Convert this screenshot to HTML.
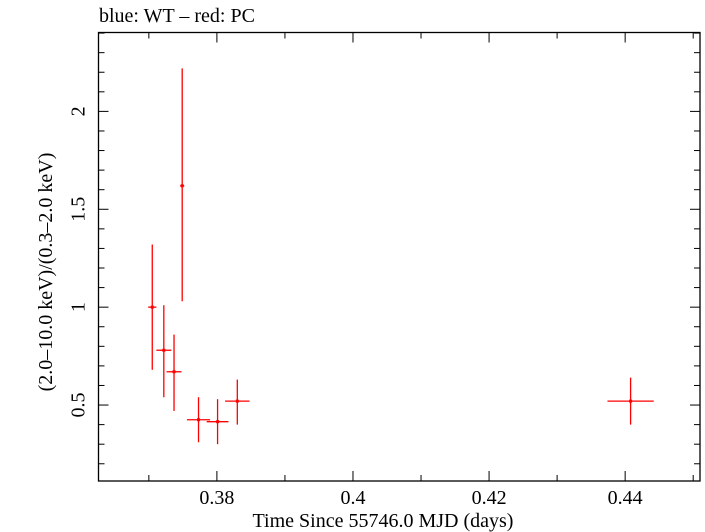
<!DOCTYPE html>
<html><head><meta charset="utf-8"><style>
html,body{margin:0;padding:0;background:#fff;}
svg{display:block;font-family:"Liberation Serif",serif;}
</style></head><body>
<svg id="chart" width="705" height="532" viewBox="0 0 705 532" xmlns="http://www.w3.org/2000/svg">
<text x="99" y="22" font-size="20">blue: WT – red: PC</text>
<rect x="98.5" y="32.5" width="601.5" height="448.5" fill="none" stroke="#000" stroke-width="1.3"/>
<g id="axes"></g>
<g id="marks"></g>
<text x="383" y="527" font-size="20" text-anchor="middle">Time Since 55746.0 MJD (days)</text>
<text transform="translate(52,272) rotate(-90)" font-size="20" text-anchor="middle">(2.0–10.0 keV)/(0.3–2.0 keV)</text>
</svg>
<script>
const xVals=[0.3705,0.3722,0.3737,0.3749,0.3773,0.3801,0.3830,0.4408];
const xErr=[0.0006,0.0011,0.0011,0.0003,0.0017,0.0016,0.0018,0.0034];
const yVals=[1.0,0.78,0.67,1.62,0.425,0.415,0.52,0.52];
const yLow=[0.68,0.54,0.47,1.03,0.31,0.30,0.40,0.40];
const yHigh=[1.32,1.01,0.86,2.22,0.54,0.53,0.63,0.64];
const xTicks=[0.38,0.4,0.42,0.44];
const xTickLabels=["0.38","0.4","0.42","0.44"];
const yTicks=[0.5,1,1.5,2];
const yTickLabels=["0.5","1","1.5","2"];
const X0=0.3626,X1=0.4510,Y0=0.112,Y1=2.403;
const L=98.5,R=700,T=32.5,B=481;
const sx=v=>L+(v-X0)/(X1-X0)*(R-L);
const sy=v=>B-(v-Y0)/(Y1-Y0)*(B-T);
const NS="http://www.w3.org/2000/svg";
function mk(tag,attrs,parent){const e=document.createElementNS(NS,tag);for(const k in attrs)e.setAttribute(k,attrs[k]);parent.appendChild(e);return e;}
const ax=document.getElementById('axes');
for(let i=0;i<=9;i++){const v=0.37+i*0.01;if(v>X1)break;const major=Math.abs(((v-0.38)/0.02)-Math.round((v-0.38)/0.02))<1e-6;const len=major?10:6;
const t1=mk('line',{x1:sx(v),x2:sx(v),y1:B,y2:B-len,stroke:'#000','stroke-width':1},ax);


const t2=mk('line',{x1:sx(v),x2:sx(v),y1:T,y2:T+len,stroke:'#000','stroke-width':1},ax);

}
xTicks.forEach((v,i)=>{const t=mk('text',{x:sx(v),y:B+23,'font-size':20,'text-anchor':'middle'},ax);t.textContent=xTickLabels[i];

});
for(let i=2;i<=24;i++){const v=i*0.1;if(v>Y1)break;const major=i%5===0;const len=major?10:6;
const t1=mk('line',{x1:L,x2:L+len,y1:sy(v),y2:sy(v),stroke:'#000','stroke-width':1},ax);


const t2=mk('line',{x1:R,x2:R-len,y1:sy(v),y2:sy(v),stroke:'#000','stroke-width':1},ax);

}
yTicks.forEach((v,i)=>{const t=mk('text',{transform:`translate(${L-14},${sy(v)}) rotate(-90)`,'font-size':20,'text-anchor':'middle'},ax);t.textContent=yTickLabels[i];

});
const mg=document.getElementById('marks');
xVals.forEach((x,i)=>{const g=mk('g',{},mg);


mk('line',{x1:sx(x),x2:sx(x),y1:sy(yLow[i]),y2:sy(yHigh[i]),stroke:'#f00','stroke-width':1.3},g);
mk('line',{x1:sx(x-xErr[i]),x2:sx(x+xErr[i]),y1:sy(yVals[i]),y2:sy(yVals[i]),stroke:'#f00','stroke-width':1.3},g);
mk('rect',{x:sx(x)-1.5,y:sy(yVals[i])-1.5,width:3,height:3,fill:'#f00'},g);});
</script>
</body></html>
